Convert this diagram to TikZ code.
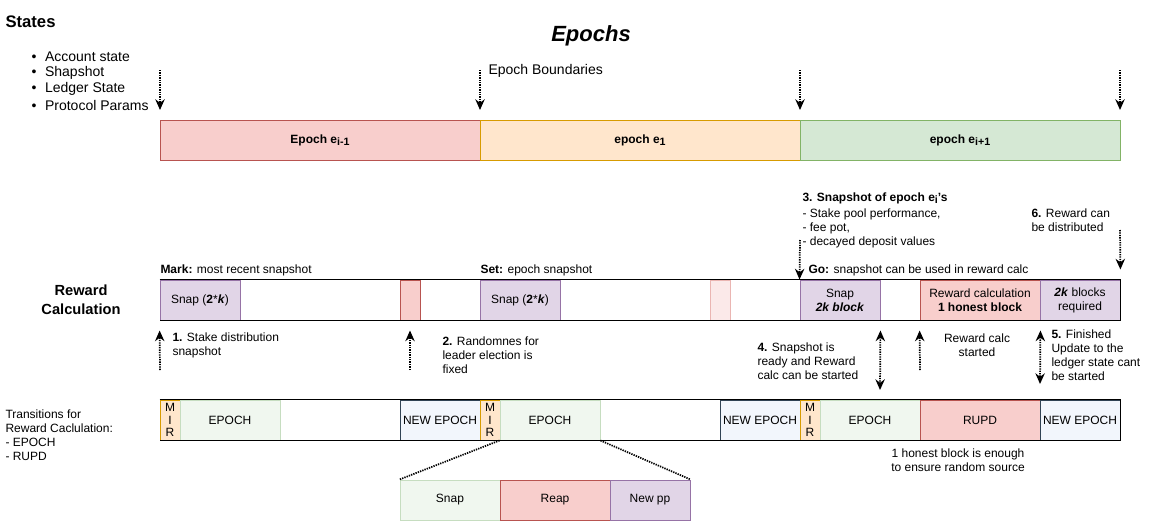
\documentclass[tikz,border=0pt]{standalone}
\usepackage{fontspec}
\setmainfont{Liberation Sans}
\usetikzlibrary{arrows.meta, positioning}

\definecolor{redfill}{HTML}{F8CECC}
\definecolor{redline}{HTML}{B85450}
\definecolor{orangefill}{HTML}{FFE6CC}
\definecolor{orangeline}{HTML}{D79B00}
\definecolor{greenfill}{HTML}{D5E8D4}
\definecolor{greenline}{HTML}{82B366}
\definecolor{purplefill}{HTML}{E1D5E7}
\definecolor{purpleline}{HTML}{9673A6}
\definecolor{paleblue}{HTML}{F2F6FC}
\definecolor{slateline}{HTML}{314354}
\definecolor{palegreen}{HTML}{F0F7EF}
\definecolor{palegreenline}{HTML}{C6DDC0}
\definecolor{palered}{HTML}{FBE9E9}
\definecolor{paleredline}{HTML}{EAB5B2}

\newcommand{\lowsub}[1]{\raisebox{-0.4ex}{\fontsize{8}{9}\selectfont #1}}

\begin{document}
\begin{tikzpicture}[x=0.75pt, y=-0.75pt, line width=0.75pt,
    >={Stealth[length=8pt, width=7pt]},
    txt/.style={font=\fontsize{9}{10.5}\selectfont, inner sep=0pt, align=left, anchor=west},
    big txt/.style={font=\fontsize{10.5}{12}\selectfont, inner sep=0pt, align=left, anchor=west},
    box/.style={draw, minimum height=30pt, inner sep=0pt, align=center, font=\fontsize{9}{10.5}\selectfont},
    wd/.style={minimum width=#1*0.75pt},
    red box/.style={box, fill=redfill, draw=redline},
    orange box/.style={box, fill=orangefill, draw=orangeline},
    green box/.style={box, fill=greenfill, draw=greenline},
    purple box/.style={box, fill=purplefill, draw=purpleline},
    pale red box/.style={box, fill=palered, draw=paleredline},
    epoch box/.style={box, fill=palegreen, draw=palegreenline},
    new box/.style={box, fill=paleblue, draw=slateline},
    mir box/.style={box, fill=orangefill, draw=orangeline, font=\fontsize{9}{9.6}\selectfont},
    frame/.style={minimum height=30pt, inner sep=0pt},
    dots/.style={line width=1.3pt, dash pattern=on 1pt off 0.8pt},
]
    \useasboundingbox (0,0) rectangle (1151,521);

    % Titles
    \node[inner sep=0pt, anchor=west, font=\fontsize{12.5}{15}\selectfont\bfseries] (states) at (5,22) {States};
    \foreach \t [count=\i] in {Account state, Shapshot, Ledger State, Protocol Params}
        \node[big txt] (state\i) at (31,41+16*\i) {\textbullet\hspace{6.5pt}\t};
    \node[font=\fontsize{16.5}{20}\selectfont\bfseries\itshape] (title) at (591,36) {Epochs};

    % Epochs
    \node[red box, wd=320, font=\fontsize{9}{10.5}\selectfont\bfseries] (epA) at (320,140) {Epoch e\lowsub{i-1}};
    \node[orange box, wd=320, font=\fontsize{9}{10.5}\selectfont\bfseries] (epB) at (640,140) {epoch e\lowsub{1}};
    \node[green box, wd=320, font=\fontsize{9}{10.5}\selectfont\bfseries] (epC) at (960,140) {epoch e\lowsub{i+1}};

    \foreach \x/\n in {160/a, 480/b, 800/c, 1120/d} {
        \coordinate (bnd\n) at (\x,70);
        \coordinate (bndtip\n) at (\x,110);
        \draw[dots, ->] (bnd\n) -- (bndtip\n);
    }
    \node[big txt] (bndlabel) at (488,71) {Epoch Boundaries};

    % Reward calculation
    \node[align=center, inner sep=0pt, font=\fontsize{11}{14.2}\selectfont\bfseries] (rewlabel) at (81,300) {Reward\\Calculation};
    \node[frame, wd=960] (rewRow) at (640,300) {};
    \node[purple box, wd=80] (snapA) at (200,300) {Snap (\textbf{2}*\textbf{\textit{k}})};
    \node[red box, wd=20] (randA) at (410,300) {};
    \node[purple box, wd=80] (snapB) at (520,300) {Snap (\textbf{2}*\textbf{\textit{k}})};
    \node[pale red box, wd=20] (randB) at (720,300) {};
    \node[purple box, wd=80] (snapC) at (840,300) {Snap\\\textbf{\textit{2k block}}};
    \node[red box, wd=120] (rcalc) at (980,300) {Reward calculation\\\textbf{1 honest block}};
    \node[purple box, wd=80] (blk2k) at (1080,300) {\textbf{\textit{2k}} blocks\\required};
    \draw (rewRow.north west) -- (rewRow.north east) -- (rewRow.south east) -- (rewRow.south west);

    \node[txt] (mark) at (160,270) {\textbf{Mark:} most recent snapshot};
    \node[txt] (set) at (480,270) {\textbf{Set:} epoch snapshot};
    \node[txt] (go) at (808,270) {\textbf{Go:} snapshot can be used in reward calc};
    \node[txt, font=\fontsize{9}{10.5}\selectfont\bfseries] (step3) at (802,198) {3. Snapshot of epoch e\lowsub{i}'s};
    \node[txt] (step3list) at (802,228.5) {- Stake pool performance,\\- fee pot,\\- decayed deposit values};
    \node[txt] (step1) at (172,345) {\textbf{1.} Stake distribution\\snapshot};
    \node[txt] (step2) at (442,355) {\textbf{2.} Randomnes for\\leader election is\\fixed};
    \node[txt] (step4) at (757,361) {\textbf{4.} Snapshot is\\ready and Reward\\calc can be started};
    \node[txt, anchor=center, align=center] (started) at (977,345) {Reward calc\\started};
    \node[txt] (step5) at (1051,355) {\textbf{5.} Finished\\Update to the\\ledger state cant\\be started};
    \node[txt] (step6) at (1031,220) {\textbf{6.} Reward can\\be distributed};

    % Arrows
    \coordinate (up1) at (160,370);
    \coordinate (up2) at (410,370);
    \coordinate (down3) at (800,240);
    \coordinate (dbl4) at (880,390);
    \coordinate (up5) at (920,370);
    \coordinate (dbl6) at (1040,384);
    \coordinate (down7) at (1120,230);
    \draw[dots, ->, shorten >=7.5pt] (up1) -- (snapA.south west);
    \draw[dots, ->, shorten >=7.5pt] (up2) -- (randA.south);
    \draw[dots, ->] (down3) -- (snapC.north west);
    \draw[dots, <->, shorten <=7.5pt] (snapC.south east) -- (dbl4);
    \draw[dots, ->, shorten >=7.5pt] (up5) -- (rcalc.south west);
    \draw[dots, <->, shorten <=7.5pt] (rcalc.south east) -- (dbl6);
    \draw[dots, ->, shorten >=7.5pt] (down7) -- (blk2k.north east);

    % Transitions
    \node[txt] (translabel) at (5,435) {Transitions for\\Reward Caclulation:\\- EPOCH\\- RUPD};
    \node[frame, wd=960] (transRow) at (640,420) {};
    \node[mir box, wd=20] (mirA) at (170,420) {M\\I\\R};
    \node[epoch box, wd=100] (epochA) at (230,420) {EPOCH};
    \node[new box, wd=80] (newA) at (440,420) {NEW EPOCH};
    \node[mir box, wd=20] (mirB) at (490,420) {M\\I\\R};
    \node[epoch box, wd=100] (epochB) at (550,420) {EPOCH};
    \node[new box, wd=80] (newB) at (760,420) {NEW EPOCH};
    \node[mir box, wd=20] (mirC) at (810,420) {M\\I\\R};
    \node[epoch box, wd=100] (epochC) at (870,420) {EPOCH};
    \node[red box, wd=120] (rupd) at (980,420) {RUPD};
    \node[new box, wd=80] (newC) at (1080,420) {NEW EPOCH};
    \draw (transRow.north west) -- (transRow.north east) -- (transRow.south east) -- (transRow.south west);
    \node[txt, anchor=center, align=center] (honest) at (958,460) {1 honest block is enough\\to ensure random source};

    % Epoch detail
    \node[epoch box, wd=100] (snapD) at (450,500) {Snap};
    \node[red box, wd=110] (reap) at (555,500) {Reap};
    \node[purple box, wd=80] (newpp) at (650,500) {New pp};
    \draw[dots] (epochB.south west) -- (snapD.north west);
    \draw[dots] (epochB.south east) -- (newpp.north east);

\end{tikzpicture}
\end{document}
